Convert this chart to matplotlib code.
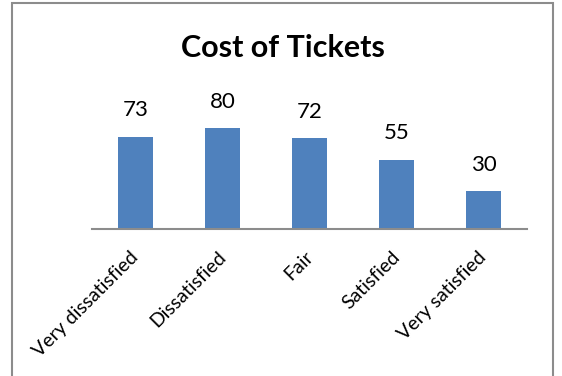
import matplotlib.pyplot as plt
import matplotlib.transforms as mtransforms
from matplotlib.patches import Rectangle

categories = ["Very dissatisfied", "Dissatisfied", "Fair", "Satisfied", "Very satisfied"]
values = [73, 80, 72, 55, 30]

plt.rcParams['font.family'] = ['Lato', 'DejaVu Sans']

W, H = 562, 376
fig = plt.figure(figsize=(W / 100, H / 100), dpi=100)

# chart frame
fig.patches.append(Rectangle((12 / W, -0.1), (553 - 12) / W, (H - 3) / H + 0.1,
                             transform=fig.transFigure, fill=False,
                             edgecolor="#8c8c8c", linewidth=1.5))

# axes: x from 92 to 527 px, baseline at y=229, 90 units -> 113 px
ax = fig.add_axes([92 / W, (H - 229) / H, (527 - 92) / W, 113.4 / H])
x = range(len(categories))
bars = ax.bar(x, values, width=0.4, color="#4f81bd")
ax.set_xlim(-0.5, len(categories) - 0.5)
ax.set_ylim(0, 90)

for b, v in zip(bars, values):
    ax.annotate(str(v), (b.get_x() + b.get_width() / 2, v), xytext=(0, 12),
                textcoords="offset points", ha="center", va="bottom",
                fontsize=16, annotation_clip=False)

ax.set_yticks([])
ax.set_xticks(list(x))
ax.set_xticklabels(categories, rotation=45, ha="right", rotation_mode="anchor",
                   fontsize=14)
ax.tick_params(axis="x", length=0, pad=14)
shift = mtransforms.ScaledTranslation(-4 / 72, 0, fig.dpi_scale_trans)
for lab in ax.get_xticklabels():
    lab.set_transform(lab.get_transform() + shift)
for s in ["top", "right", "left"]:
    ax.spines[s].set_visible(False)
ax.spines["bottom"].set_color("#8c8c8c")
ax.spines["bottom"].set_linewidth(1.5)
ax.patch.set_visible(False)

fig.text(283 / W, 1 - 48 / H, "Cost of Tickets", ha="center", va="center",
         fontsize=22, fontweight="bold")

fig.savefig("out.png", dpi=100)
